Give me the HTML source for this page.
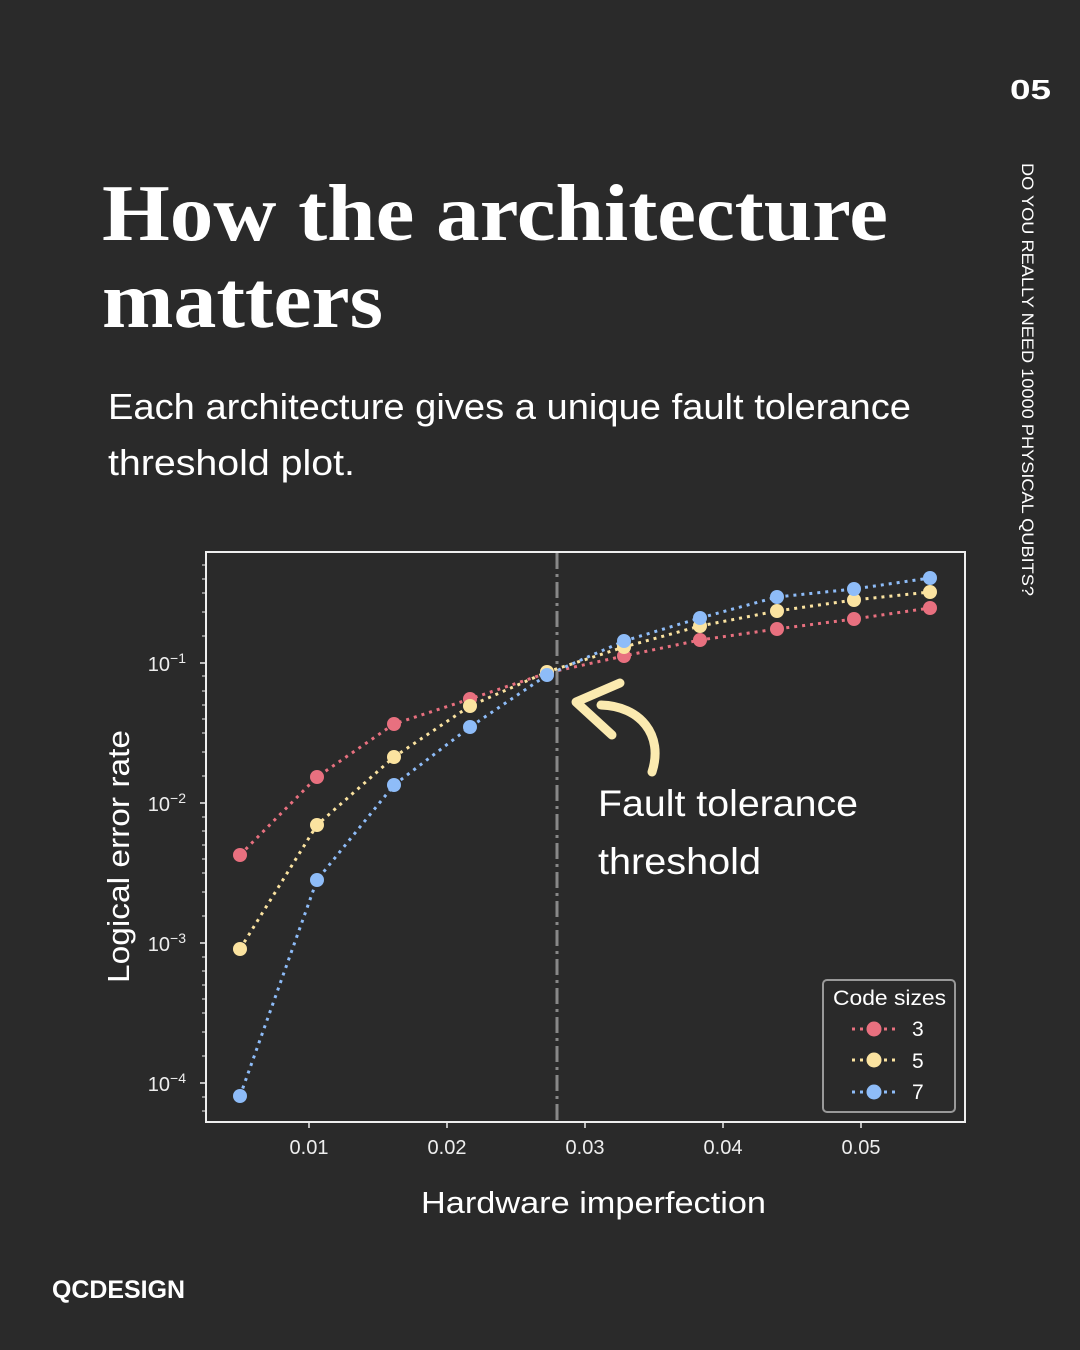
<!DOCTYPE html>
<html><head><meta charset="utf-8"><style>
html,body{margin:0;padding:0;background:#2a2a2a;}
body{width:1080px;height:1350px;overflow:hidden;}
svg{display:block}
</style></head><body>
<svg width="1080" height="1350" xmlns="http://www.w3.org/2000/svg" font-family="'Liberation Sans', 'DejaVu Sans', sans-serif">
<rect width="1080" height="1350" fill="#2a2a2a"/>
<text x="1010" y="99" fill="#fff" font-size="28" font-weight="bold" textLength="41" lengthAdjust="spacingAndGlyphs">05</text>
<text transform="translate(1022,163) rotate(90)" fill="#fff" font-size="16.5" textLength="433" lengthAdjust="spacingAndGlyphs">DO YOU REALLY NEED 10000 PHYSICAL QUBITS?</text>
<text x="102" y="240" fill="#fff" font-size="80" font-weight="bold" font-family="'Liberation Serif', serif" textLength="786" lengthAdjust="spacingAndGlyphs">How the architecture</text>
<text x="102" y="327" fill="#fff" font-size="80" font-weight="bold" font-family="'Liberation Serif', serif" textLength="281" lengthAdjust="spacingAndGlyphs">matters</text>
<text x="108" y="419" fill="#fff" font-size="36" textLength="803" lengthAdjust="spacingAndGlyphs">Each architecture gives a unique fault tolerance</text>
<text x="108" y="475" fill="#fff" font-size="36" textLength="247" lengthAdjust="spacingAndGlyphs">threshold plot.</text>

<rect x="206" y="552" width="759" height="570" fill="none" stroke="#eee" stroke-width="2"/>
<g stroke="#eee" stroke-width="1.5">
<line x1="200" y1="663" x2="206" y2="663"/><line x1="200" y1="803" x2="206" y2="803"/><line x1="200" y1="943" x2="206" y2="943"/><line x1="200" y1="1083" x2="206" y2="1083"/>
<line x1="309" y1="1122" x2="309" y2="1128"/><line x1="447" y1="1122" x2="447" y2="1128"/><line x1="585" y1="1122" x2="585" y2="1128"/><line x1="723" y1="1122" x2="723" y2="1128"/><line x1="861" y1="1122" x2="861" y2="1128"/>
</g>
<g stroke="#eee" stroke-width="1">
<line x1="202" y1="565" x2="206" y2="565"/><line x1="202" y1="579" x2="206" y2="579"/><line x1="202" y1="593" x2="206" y2="593"/><line x1="202" y1="612" x2="206" y2="612"/><line x1="202" y1="636" x2="206" y2="636"/>
<line x1="202" y1="676" x2="206" y2="676"/><line x1="202" y1="691" x2="206" y2="691"/><line x1="202" y1="705" x2="206" y2="705"/><line x1="202" y1="719" x2="206" y2="719"/><line x1="202" y1="733" x2="206" y2="733"/><line x1="202" y1="752" x2="206" y2="752"/><line x1="202" y1="776" x2="206" y2="776"/>
<line x1="202" y1="817" x2="206" y2="817"/><line x1="202" y1="831" x2="206" y2="831"/><line x1="202" y1="845" x2="206" y2="845"/><line x1="202" y1="859" x2="206" y2="859"/><line x1="202" y1="873" x2="206" y2="873"/><line x1="202" y1="892" x2="206" y2="892"/><line x1="202" y1="916" x2="206" y2="916"/>
<line x1="202" y1="957" x2="206" y2="957"/><line x1="202" y1="971" x2="206" y2="971"/><line x1="202" y1="985" x2="206" y2="985"/><line x1="202" y1="999" x2="206" y2="999"/><line x1="202" y1="1013" x2="206" y2="1013"/><line x1="202" y1="1032" x2="206" y2="1032"/><line x1="202" y1="1056" x2="206" y2="1056"/>
<line x1="202" y1="1097" x2="206" y2="1097"/><line x1="202" y1="1111" x2="206" y2="1111"/>
</g>
<g fill="#eee" font-size="20" text-anchor="end">
<text x="186" y="671">10<tspan font-size="14" dy="-8">−1</tspan></text>
<text x="186" y="811">10<tspan font-size="14" dy="-8">−2</tspan></text>
<text x="186" y="951">10<tspan font-size="14" dy="-8">−3</tspan></text>
<text x="186" y="1091">10<tspan font-size="14" dy="-8">−4</tspan></text>
</g>
<g fill="#eee" font-size="20" text-anchor="middle">
<text x="309" y="1154">0.01</text><text x="447" y="1154">0.02</text><text x="585" y="1154">0.03</text><text x="723" y="1154">0.04</text><text x="861" y="1154">0.05</text>
</g>
<text x="421" y="1213" fill="#fff" font-size="31" textLength="345" lengthAdjust="spacingAndGlyphs">Hardware imperfection</text>
<text transform="translate(129,983) rotate(-90)" fill="#fff" font-size="31" textLength="253" lengthAdjust="spacingAndGlyphs">Logical error rate</text>

<line x1="557" y1="553" x2="557" y2="1121" stroke="#888" stroke-width="3" stroke-dasharray="16,5,3,5"/>

<g fill="none" stroke-width="3" stroke-dasharray="3,5">
<polyline stroke="#e8707f" points="240,855 317,777 394,724 470,699 547,673 624,656 700,640 777,629 854,619 930,608"/>
<polyline stroke="#fbe3a0" points="240,949 317,825 394,757 470,706 547,672 624,647 700,626 777,611 854,600 930,592"/>
<polyline stroke="#8ebcf8" points="240,1096 317,880 394,785 470,727 547,675 624,641 700,618 777,597 854,589 930,578"/>
</g>
<g fill="#e8707f"><circle cx="240" cy="855" r="7"/><circle cx="317" cy="777" r="7"/><circle cx="394" cy="724" r="7"/><circle cx="470" cy="699" r="7"/><circle cx="547" cy="673" r="7"/><circle cx="624" cy="656" r="7"/><circle cx="700" cy="640" r="7"/><circle cx="777" cy="629" r="7"/><circle cx="854" cy="619" r="7"/><circle cx="930" cy="608" r="7"/></g>
<g fill="#fbe3a0"><circle cx="240" cy="949" r="7"/><circle cx="317" cy="825" r="7"/><circle cx="394" cy="757" r="7"/><circle cx="470" cy="706" r="7"/><circle cx="547" cy="672" r="7"/><circle cx="624" cy="647" r="7"/><circle cx="700" cy="626" r="7"/><circle cx="777" cy="611" r="7"/><circle cx="854" cy="600" r="7"/><circle cx="930" cy="592" r="7"/></g>
<g fill="#8ebcf8"><circle cx="240" cy="1096" r="7"/><circle cx="317" cy="880" r="7"/><circle cx="394" cy="785" r="7"/><circle cx="470" cy="727" r="7"/><circle cx="547" cy="675" r="7"/><circle cx="624" cy="641" r="7"/><circle cx="700" cy="618" r="7"/><circle cx="777" cy="597" r="7"/><circle cx="854" cy="589" r="7"/><circle cx="930" cy="578" r="7"/></g>

<g fill="none" stroke="#fbeab0" stroke-width="9" stroke-linecap="round" stroke-linejoin="round">
<polyline points="620,683 576,702 612,735"/>
<path d="M601,705 C640,706 664,735 652,772"/>
</g>
<text x="598" y="816" fill="#fff" font-size="37" textLength="260" lengthAdjust="spacingAndGlyphs">Fault tolerance</text>
<text x="598" y="874" fill="#fff" font-size="37" textLength="163" lengthAdjust="spacingAndGlyphs">threshold</text>

<rect x="823" y="980" width="132" height="132" rx="4" fill="#2a2a2a" stroke="#999" stroke-width="2"/>
<text x="833" y="1005" fill="#fff" font-size="21" textLength="113" lengthAdjust="spacingAndGlyphs">Code sizes</text>
<g stroke-width="3" stroke-dasharray="3,5">
<line x1="852" y1="1029" x2="896" y2="1029" stroke="#e8707f"/>
<line x1="852" y1="1060" x2="896" y2="1060" stroke="#fbe3a0"/>
<line x1="852" y1="1092" x2="896" y2="1092" stroke="#8ebcf8"/>
</g>
<circle cx="874" cy="1029" r="7.5" fill="#e8707f"/>
<circle cx="874" cy="1060" r="7.5" fill="#fbe3a0"/>
<circle cx="874" cy="1092" r="7.5" fill="#8ebcf8"/>
<g fill="#fff" font-size="21"><text x="912" y="1036">3</text><text x="912" y="1068">5</text><text x="912" y="1099">7</text></g>

<text x="52" y="1298" fill="#fff" font-size="25" font-weight="bold" textLength="133" lengthAdjust="spacingAndGlyphs">QCDESIGN</text>
</svg>
</body></html>
